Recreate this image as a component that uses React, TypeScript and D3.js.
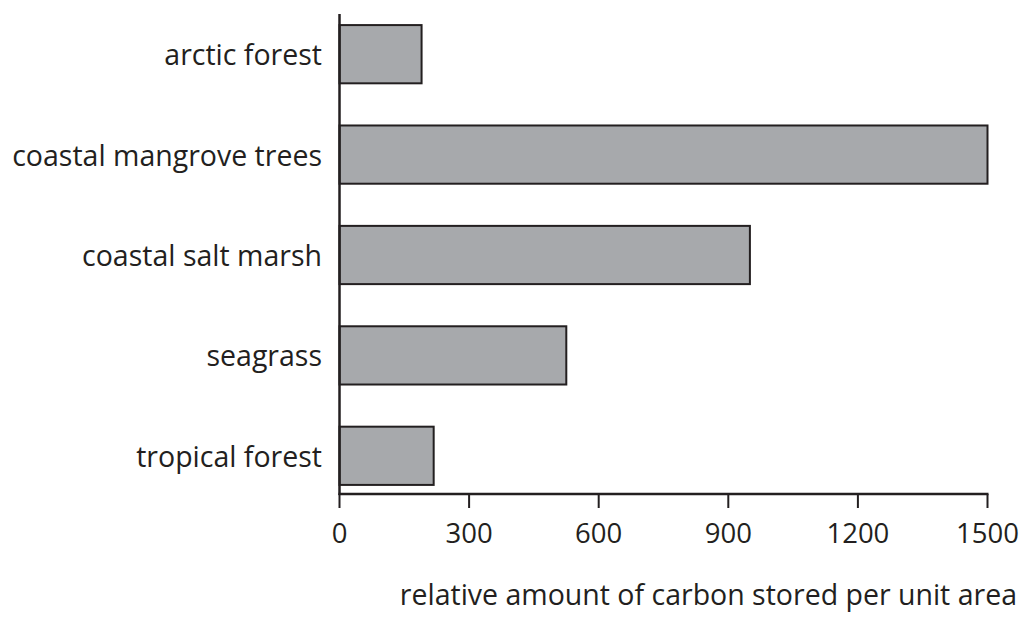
import React from 'react';
import * as d3 from 'd3';

const categories = ['arctic forest', 'coastal mangrove trees', 'coastal salt marsh', 'seagrass', 'tropical forest'];
const carbonValues = [190, 1500, 950, 525, 218];
const xTicks = [0, 300, 600, 900, 1200, 1500];
const xTitle = 'relative amount of carbon stored per unit area';

const FONT = "'Open Sans', sans-serif";
const INK = '#231f20';

export default function App() {
  const width = 1025;
  const height = 619;

  const x = d3.scaleLinear().domain([0, 1500]).range([339.5, 987.5]);
  const y = d3.scaleBand<string>().domain(categories).range([4, 506]).paddingInner(0.42).paddingOuter(0.21);

  const axisY = 494;

  return (
    <svg width={width} height={height} style={{position: 'absolute', left: 0, top: 0}}>
      {categories.map((c, i) => (
        <g key={c}>
          <rect x={x(0)} y={y(c)} width={x(carbonValues[i]) - x(0)} height={y.bandwidth()}
                fill="#a7a9ac" stroke={INK} strokeWidth={2}/>
          <text x={322} y={(y(c) as number) + y.bandwidth() / 2 + 11} textAnchor="end"
                fontFamily={FONT} fontSize={28.5} fill={INK}>{c}</text>
        </g>
      ))}
      {/* axes */}
      <line x1={x(0)} x2={x(0)} y1={14} y2={axisY + 1} stroke={INK} strokeWidth={2.5}/>
      <line x1={x(0) - 1} x2={x(1500) + 1} y1={axisY} y2={axisY} stroke={INK} strokeWidth={2.5}/>
      {xTicks.map(t => (
        <g key={t}>
          <line x1={x(t)} x2={x(t)} y1={axisY} y2={axisY + 14} stroke={INK} strokeWidth={2}/>
          <text x={x(t)} y={543} textAnchor="middle" fontFamily={FONT} fontSize={27.5} fill={INK}>{t}</text>
        </g>
      ))}
      <text x={1017} y={605} textAnchor="end" fontFamily={FONT} fontSize={28.5} fill={INK}>{xTitle}</text>
    </svg>
  );
}
